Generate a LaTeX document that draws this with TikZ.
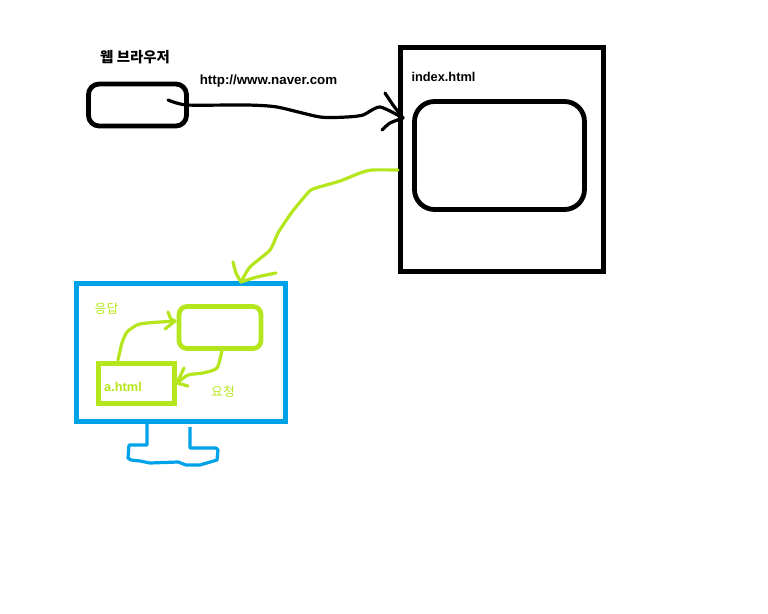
\documentclass[tikz,border=0pt]{standalone}
\usepackage{fontspec}
\setmainfont{Liberation Sans}
\newfontfamily\krfont{Noto Sans CJK KR}
\usepackage{xcolor}
\definecolor{inkBlack}{HTML}{000000}
\definecolor{limeInk}{HTML}{B5E61D}
\definecolor{skyInk}{HTML}{00A2E8}
\usetikzlibrary{positioning,calc}
\tikzset{%
  blackBox/.style={%
    rectangle,
    draw=inkBlack,
    line width=3.6pt,
    inner sep=0pt
  },
  limeBox/.style={%
    rectangle,
    draw=limeInk,
    line width=3.6pt,
    inner sep=0pt
  },
  penLine/.style={%
    line width=2.4pt,
    line cap=round,
    line join=round
  },
  blackLabel/.style={%
    text=inkBlack,
    font=\bfseries\fontsize{9.6}{11}\selectfont,
    inner sep=0pt
  },
  limeLabel/.style={%
    text=limeInk,
    font=\bfseries\fontsize{9.6}{11}\selectfont,
    inner sep=0pt
  }
}

\begin{document}
\begin{tikzpicture}[x=0.75pt,y=-0.75pt]
  \useasboundingbox (0,0) rectangle (768,614);

  % browser and page
  \node[blackBox, rounded corners=8pt, minimum width=73.5pt, minimum height=31.5pt] (browser) at (137.5,105) {};
  \node[blackBox, line width=4.2pt, minimum width=152pt, minimum height=168pt] (index) at (502,159.5) {};
  \node[blackBox, rounded corners=15pt, minimum width=127.5pt, minimum height=81pt] (frame) at (499.5,155.5) {};

  % monitor
  \node[rectangle, draw=skyInk, line width=3.75pt, inner sep=0pt, minimum width=156.75pt, minimum height=103.5pt] (monitor) at (181,352.5) {};
  \node[limeBox, rounded corners=6pt, minimum width=61.5pt, minimum height=31.5pt] (view) at (220,327.5) {};
  \node[limeBox, line width=3.75pt, minimum width=57pt, minimum height=30pt] (ahtml) at (136,383.5) {};

  % labels
  \node[blackLabel, font=\bfseries\fontsize{10.8}{12}\selectfont] (browserText) at (135,57) {\krfont 웹 브라우저};
  \node[blackLabel, font=\bfseries\fontsize{10}{12}\selectfont] (urlText) at (268.5,81) {http://www.naver.com};
  \node[blackLabel] (indexText) at (443.5,76.5) {index.html};
  \node[limeLabel] (ahtmlText) at (123,387) {a.html};
  \node[limeLabel, font=\fontsize{9.6}{11}\selectfont] (replyText) at (106.5,309) {\krfont 응답};
  \node[limeLabel, font=\fontsize{9.6}{11}\selectfont] (askText) at (223,392) {\krfont 요청};

  % hand drawn ends
  \coordinate (urlStart) at (168,100);
  \coordinate (urlEnd) at (403,118);
  \coordinate (pageOut) at (398,170);
  \coordinate (monitorIn) at (241,282);
  \coordinate (ahtmlTop) at (118,360);
  \coordinate (viewLeft) at (175,321);
  \coordinate (viewBottom) at (222,350);
  \coordinate (ahtmlRight) at (177,383);

  % connectors
  \draw[penLine, inkBlack] plot[smooth, tension=.4] coordinates {(urlStart) (187,105) (247,105) (277,107) (320,117) (347,117) (363,115) (380,107) (urlEnd)};
  \draw[penLine, inkBlack] plot[smooth, tension=.4] coordinates {(385,93) (393,105) (urlEnd)};
  \draw[penLine, inkBlack] plot[smooth, tension=.4] coordinates {(382,130) (390,123) (urlEnd)};

  \draw[penLine, limeInk] plot[smooth, tension=.4] coordinates {(pageOut) (372,170) (360,173) (340,181) (313,189) (306,195) (292,212) (278,233) (270,250) (250,267) (monitorIn)};
  \draw[penLine, limeInk] plot[smooth, tension=.4] coordinates {(233,262) (236,273) (monitorIn)};
  \draw[penLine, limeInk] plot[smooth, tension=.4] coordinates {(276,273) (257,277) (monitorIn)};

  \draw[penLine, limeInk] plot[smooth, tension=.4] coordinates {(ahtmlTop) (122,343) (127,332) (137,325) (147,323) (viewLeft)};
  \draw[penLine, limeInk] plot[smooth, tension=.4] coordinates {(168,312) (171,319) (viewLeft)};
  \draw[penLine, limeInk] (165,329) -- (viewLeft);

  \draw[penLine, limeInk] plot[smooth, tension=.4] coordinates {(viewBottom) (217,368) (203,373) (188,375) (ahtmlRight)};
  \draw[penLine, limeInk] (184,368) -- (ahtmlRight) -- (188,386);

  % stand
  \coordinate (standLeft) at (147,424);
  \coordinate (standRight) at (190,427);
  \draw[penLine, skyInk, line cap=butt] (standLeft) -- (147,445) -- (129,445) -- (128,458) -- (131,460) -- (140,461) -- (150,463) -- (178,462) -- (186,465) -- (200,465) -- (217,460) -- (218,450) -- (216,448) -- (190,448) -- (standRight);
\end{tikzpicture}
\end{document}
